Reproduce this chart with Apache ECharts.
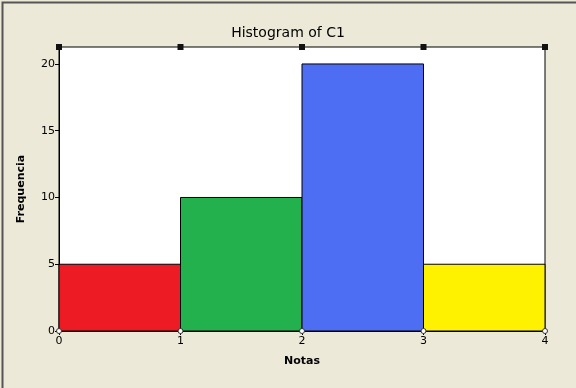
<!DOCTYPE html>
<html><head><meta charset="utf-8">
<script src="https://cdn.jsdelivr.net/npm/echarts@6/dist/echarts.min.js"></script>
<style>html,body{margin:0;padding:0;background:#ECE9D8;}#c{width:576px;height:388px;}</style>
</head><body><div id="c"></div>
<script>
const binStarts = [0, 1, 2, 3];
const binEnds = [1, 2, 3, 4];
const counts = [5, 10, 20, 5];
const barColors = ['#ED1C24', '#22B14C', '#4D6DF3', '#FFF200'];
const xTicks = [0, 1, 2, 3, 4];
const yTicks = [0, 5, 10, 15, 20];

const chart = echarts.init(document.getElementById('c'));
const data = binStarts.map((s, i) => [s, binEnds[i], counts[i], i]);
const frame = {
  type: 'rect', left: 0, top: 0, shape: {width: 575, height: 387},
  style: {fill: 'none', stroke: '#555', lineWidth: 2}, silent: true
};
chart.setOption({
  backgroundColor: '#ECE9D8',
  animation: false,
  title: {
    text: 'Histogram of C1', left: 283, top: 21, textAlign: 'center',
    textStyle: {fontFamily: 'DejaVu Sans', fontSize: 14, fontWeight: 'normal', color: '#000'}
  },
  grid: {left: 59, right: 31, top: 47, bottom: 57, show: true, backgroundColor: '#fff', borderColor: '#000', borderWidth: 1},
  xAxis: {
    type: 'value', min: 0, max: 4, interval: 1,
    name: 'Notas', nameLocation: 'middle', nameGap: 25,
    nameTextStyle: {fontFamily: 'DejaVu Sans', fontSize: 11, fontWeight: 'bold', color: '#000'},
    axisLine: {show: true, lineStyle: {color: '#000'}},
    axisTick: {show: true, length: 4, lineStyle: {color: '#000'}},
    axisLabel: {fontFamily: 'DejaVu Sans', fontSize: 11, color: '#000', margin: 5, formatter: v => xTicks.includes(v) ? String(v) : ''},
    splitLine: {show: false}
  },
  yAxis: {
    type: 'value', min: 0, max: 21.27, interval: 5,
    name: 'Frequencia', nameLocation: 'middle', nameGap: 32,
    nameTextStyle: {fontFamily: 'DejaVu Sans', fontSize: 11, fontWeight: 'bold', color: '#000'},
    axisLine: {show: true, lineStyle: {color: '#000'}},
    axisTick: {show: true, length: 4, lineStyle: {color: '#000'}},
    axisLabel: {fontFamily: 'DejaVu Sans', fontSize: 11, color: '#000', margin: 4, showMaxLabel: false, formatter: v => yTicks.includes(v) ? String(v) : ''},
    splitLine: {show: false}
  },
  series: [{
    type: 'custom',
    data: data,
    encode: {x: [0, 1], y: 2},
    renderItem: function (params, api) {
      const p0 = api.coord([api.value(0), 0]);
      const p1 = api.coord([api.value(1), api.value(2)]);
      return {
        type: 'rect',
        shape: {x: p0[0], y: p1[1], width: p1[0] - p0[0], height: p0[1] - p1[1]},
        style: {fill: barColors[api.value(3)], stroke: '#000', lineWidth: 1}
      };
    }
  }],
  graphic: [frame]
});
// selection handles on plot corners/top
const handles = [];
xTicks.forEach(x => {
  const p = chart.convertToPixel({gridIndex: 0}, [x, 21.27]);
  handles.push({type: 'rect', shape: {x: p[0] - 3, y: p[1] - 3, width: 6, height: 6}, style: {fill: '#111'}, silent: true, z: 100});
  const q = chart.convertToPixel({gridIndex: 0}, [x, 0]);
  handles.push({type: 'circle', shape: {cx: q[0], cy: q[1], r: 2.5}, style: {fill: '#fff', stroke: '#333', lineWidth: 1}, silent: true, z: 100});
});
chart.setOption({graphic: [frame].concat(handles)});
</script></body></html>
